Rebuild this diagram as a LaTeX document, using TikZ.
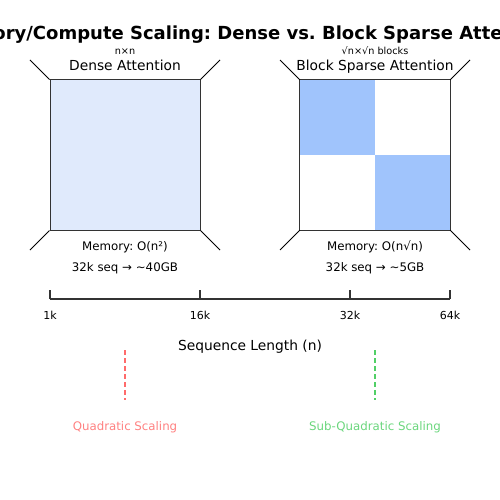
\documentclass[tikz,border=0pt]{standalone}
\usepackage{fontspec}
\setmainfont{DejaVu Sans}
\frenchspacing
\definecolor{lightfill}{HTML}{E0EAFC}
\definecolor{blockfill}{HTML}{A0C4FC}
\definecolor{qred}{HTML}{FF6B6B}
\definecolor{qgreen}{HTML}{51CF66}
\definecolor{frame}{HTML}{333333}
\newcommand{\tld}{{\char"7E}}
\tikzset{
  px/.style={x=1pt,y=-1pt},
  boxframe/.style={draw=frame,line width=1pt},
  cornerline/.style={draw=black,line width=0.8pt},
  lbl/.style={anchor=base,inner sep=0pt,font=\fontsize{11.8}{13}\selectfont},
  heading/.style={anchor=base,inner sep=0pt,font=\fontsize{13.8}{15}\selectfont},
  small/.style={anchor=base,inner sep=0pt,font=\fontsize{9.7}{11}\selectfont},
  axisline/.style={draw=frame,line width=1.6pt},
  scaleline/.style={line width=2pt,dash pattern=on 5pt off 3pt},
}
\begin{document}
\begin{tikzpicture}[px]
\useasboundingbox (0,0) rectangle (500,500);
\begin{scope}
\clip (0,0) rectangle (500,500);
\node[anchor=base,inner sep=0pt,font=\fontsize{18}{20}\selectfont\bfseries] (title) at (250,39.5) {Memory/Compute Scaling: Dense vs. Block Sparse Attention};
\end{scope}
% Dense
\node[small] (dn) at (125,55) {n×n};
\node[heading] (dh) at (125,71) {Dense Attention};
\node[boxframe,fill=lightfill,minimum width=150pt,minimum height=150pt,inner sep=0pt] (dbox) at (125,155) {};
\coordinate (dtl) at (30,60);
\coordinate (dtr) at (220,60);
\coordinate (dbl) at (30,250);
\coordinate (dbr) at (220,250);
\draw[cornerline] (dtl) -- (dbox.north west);
\draw[cornerline] (dtr) -- (dbox.north east);
\draw[cornerline] (dbl) -- (dbox.south west);
\draw[cornerline] (dbr) -- (dbox.south east);
\node[lbl] (dm) at (125,250) {Memory: O(n²)};
\node[lbl] (ds) at (125,271) {32k seq → \tld40GB};
% Sparse
\node[small] (sn) at (375,55) {√n×√n blocks};
\node[heading] (sh) at (375,71) {Block Sparse Attention};
\node[minimum width=150pt,minimum height=150pt,inner sep=0pt] (sbox) at (375,155) {};
\fill[blockfill] (sbox.north west) rectangle (sbox.center);
\fill[blockfill] (sbox.center) rectangle (sbox.south east);
\draw[boxframe] (sbox.north west) rectangle (sbox.south east);
\coordinate (stl) at (280,60);
\coordinate (str) at (470,60);
\coordinate (sbl) at (280,250);
\coordinate (sbr) at (470,250);
\draw[cornerline] (stl) -- (sbox.north west);
\draw[cornerline] (str) -- (sbox.north east);
\draw[cornerline] (sbl) -- (sbox.south west);
\draw[cornerline] (sbr) -- (sbox.south east);
\node[lbl] (sm) at (375,250) {Memory: O(n√n)};
\node[lbl] (ss) at (375,271) {32k seq → \tld5GB};
% Axis
\coordinate (a1) at (50,299);
\coordinate (a2) at (200,299);
\coordinate (a3) at (350,299);
\coordinate (a4) at (450,299);
\draw[axisline] (a1) -- (a4);
\foreach \c in {a1,a2,a3,a4} \draw[axisline] (\c) -- ++(0,-9);
\node[lbl,font=\fontsize{11}{13}\selectfont] (t1) at (50,319.5) {1k};
\node[lbl,font=\fontsize{11}{13}\selectfont] (t2) at (200,319.5) {16k};
\node[lbl,font=\fontsize{11}{13}\selectfont] (t3) at (350,319.5) {32k};
\node[lbl,font=\fontsize{11}{13}\selectfont] (t4) at (450,319.5) {64k};
\node[heading] (axl) at (250,350.5) {Sequence Length (n)};
% Scaling markers
\coordinate (r1) at (125,350);
\coordinate (r2) at (125,400);
\coordinate (g1) at (375,350);
\coordinate (g2) at (375,400);
\draw[scaleline,qred] (r1) -- (r2);
\draw[scaleline,qgreen] (g1) -- (g2);
\node[lbl,text=qred!85!white] (ql) at (125,430.5) {Quadratic Scaling};
\node[lbl,text=qgreen!85!white] (gl) at (375,430.5) {Sub-Quadratic Scaling};
\end{tikzpicture}
\end{document}
